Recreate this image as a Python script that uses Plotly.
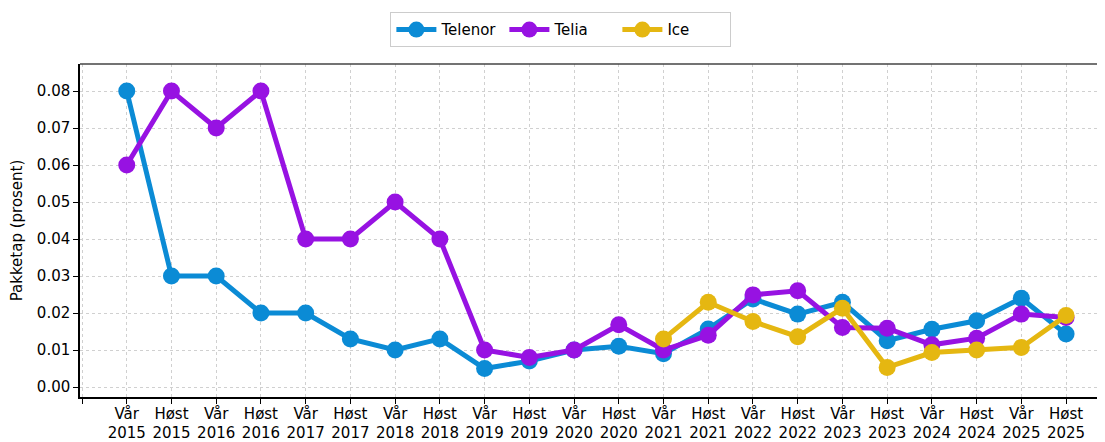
import plotly.graph_objects as go

periods = ["Vår<br>2015", "Høst<br>2015", "Vår<br>2016", "Høst<br>2016", "Vår<br>2017", "Høst<br>2017",
           "Vår<br>2018", "Høst<br>2018", "Vår<br>2019", "Høst<br>2019", "Vår<br>2020", "Høst<br>2020",
           "Vår<br>2021", "Høst<br>2021", "Vår<br>2022", "Høst<br>2022", "Vår<br>2023", "Høst<br>2023",
           "Vår<br>2024", "Høst<br>2024", "Vår<br>2025", "Høst<br>2025"]

telenor = [0.080, 0.030, 0.030, 0.020, 0.020, 0.013, 0.010, 0.013, 0.005, 0.007, 0.010, 0.011,
           0.009, 0.0157, 0.0238, 0.0197, 0.0229, 0.0125, 0.0156, 0.0179, 0.0240, 0.0143]
telia = [0.060, 0.080, 0.070, 0.080, 0.040, 0.040, 0.050, 0.040, 0.010, 0.008, 0.010, 0.0168,
         0.010, 0.014, 0.0249, 0.0260, 0.0161, 0.0159, 0.0114, 0.0132, 0.0197, 0.0188]
ice_start = 12
ice = [0.013, 0.0229, 0.0177, 0.0136, 0.0213, 0.0053, 0.0093, 0.0100, 0.0107, 0.0193]

yticks = [0.00, 0.01, 0.02, 0.03, 0.04, 0.05, 0.06, 0.07, 0.08]

colors = {"Telenor": "#0b8bd5", "Telia": "#9712e2", "Ice": "#e5b711"}

x_all = list(range(len(periods)))
fig = go.Figure()
for name, xs, ys in [("Telenor", x_all, telenor), ("Telia", x_all, telia),
                     ("Ice", x_all[ice_start:], ice)]:
    fig.add_trace(go.Scatter(
        x=xs, y=ys, name=name, mode="lines+markers",
        line=dict(color=colors[name], width=5),
        marker=dict(color=colors[name], size=17),
    ))

font_family = "DejaVu Sans"
# The page body has a default 8px margin, so the figure is sized 8px smaller.
fig.update_layout(
    width=1097, height=434,
    margin=dict(l=72, r=0, t=56, b=45),
    paper_bgcolor="white", plot_bgcolor="white",
    font=dict(family=font_family, size=15, color="black"),
    showlegend=True,
    legend=dict(orientation="h", xref="container", yref="container",
                x=0.504, xanchor="center", y=0.99, yanchor="top",
                bordercolor="#cccccc", borderwidth=1, bgcolor="white",
                font=dict(size=15), itemwidth=40,
                entrywidth=58, entrywidthmode="pixels"),
    xaxis=dict(
        range=[-1.045, 21.87],
        tickmode="array",
        tickvals=[-1] + x_all,
        ticktext=[""] + periods,
        showline=True, linecolor="black", linewidth=1.5,
        ticks="outside", ticklen=5, tickcolor="black",
        showgrid=True, gridcolor="#d0d0d0", griddash="dot", gridwidth=1,
        zeroline=False, automargin=False,
        tickfont=dict(size=15), ticklabelstandoff=-3,
    ),
    yaxis=dict(
        range=[-0.0027, 0.0873],
        tickmode="array", tickvals=yticks,
        ticktext=[f"{v:.2f}" for v in yticks],
        showline=True, linecolor="black", linewidth=1.5,
        ticks="outside", ticklen=5, tickcolor="black",
        showgrid=True, gridcolor="#d0d0d0", griddash="dot", gridwidth=1,
        zeroline=False, automargin=False,
        title=dict(text="Pakketap (prosent)", font=dict(size=15), standoff=12),
        tickfont=dict(size=15),
    ),
)
fig.add_shape(type="line", xref="paper", yref="paper", x0=0, x1=1, y0=1, y1=1,
              line=dict(color="#444444", width=1.5))

fig.write_html("out.html")
